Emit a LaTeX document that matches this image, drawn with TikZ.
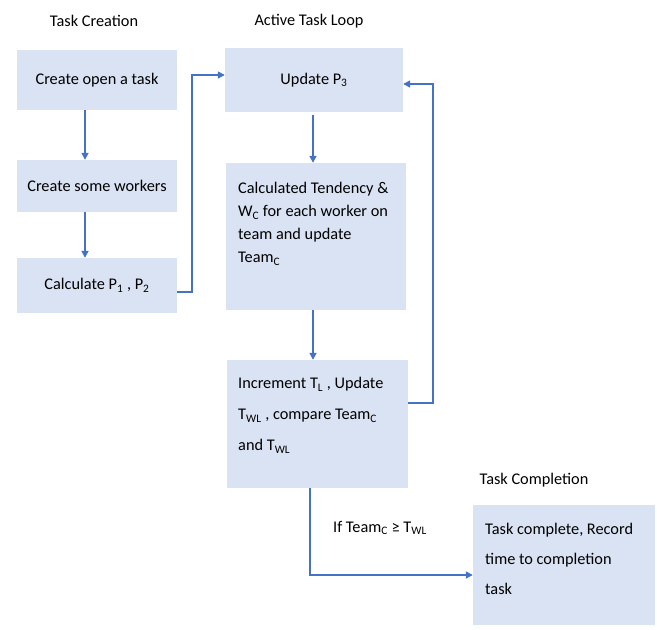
\documentclass[tikz,border=0pt]{standalone}
\usepackage{fontspec}
\setmainfont{Carlito}
\usetikzlibrary{arrows.meta}
\definecolor{boxfill}{HTML}{DAE3F3}
\definecolor{arrcol}{HTML}{4472C4}
\tikzset{
  box/.style={fill=boxfill, draw=none, inner sep=0pt, font=\fontsize{16.3}{18}\selectfont},
  txt/.style={inner sep=0pt, anchor=north west, align=left},
  head/.style={inner sep=0pt, font=\fontsize{16.3}{18}\selectfont},
  arr/.style={draw=arrcol, line width=1.6pt, -{Triangle[length=7pt,width=7pt]}},
}
\begin{document}
\begin{tikzpicture}[x=1pt,y=-1pt]
\useasboundingbox (0,0) rectangle (657,630);
\node[head] (h1) at (94,21) {Task Creation};
\node[head] (h2) at (309,21) {Active Task Loop};
\node[head] (h3) at (534,480) {Task Completion};

\node[box, minimum width=160pt, minimum height=60pt] (b1) at (97,80) {Create open a task};
\node[box, minimum width=160pt, minimum height=52pt] (b2) at (97,186) {Create some workers};
\node[box, minimum width=160pt, minimum height=55pt] (b3) at (97,285.5) {Calculate P\textsubscript{1} , P\textsubscript{2}};

\node[box, minimum width=178pt, minimum height=64pt] (up) at (314,80) {Update P\textsubscript{3}};
\node[box, minimum width=180pt, minimum height=147pt] (calc) at (316,236.5) {};
\node[box, minimum width=181pt, minimum height=128pt] (incr) at (317.5,424) {};
\node[box, minimum width=182pt, minimum height=120pt] (tc) at (564,565) {};

\node[txt, font=\fontsize{16.3}{23}\selectfont] (calct) at (238,182) {Calculated Tendency \&\\W\textsubscript{C} for each worker on\\team and update\\Team\textsubscript{C}};
\node[txt, font=\fontsize{16.3}{31}\selectfont] (incrt) at (238,377) {Increment T\textsubscript{L} , Update\\T\textsubscript{WL} , compare Team\textsubscript{C}\\and T\textsubscript{WL}};
\node[txt, font=\fontsize{16.3}{30}\selectfont] (tct) at (485,523) {Task complete, Record\\time to completion\\task};

\draw[arr] ([xshift=-12pt]b1.south) -- ([xshift=-12pt]b2.north);
\draw[arr] ([xshift=-12pt]b2.south) -- ([xshift=-12pt]b3.north);
\draw[arr] ([yshift=-6.5pt]b3.east) -- ++(15,0) |- ([yshift=5pt]up.west);
\draw[arr] ([yshift=-3pt,xshift=-1pt]up.south) -- ([xshift=-1pt]up.south |- calc.north);
\draw[arr] ([xshift=-3pt]calc.south) -- ([xshift=-3pt]calc.south |- incr.north);
\draw[arr] ([yshift=21pt]incr.east) -- ++(25,0) |- ([yshift=-4pt]up.east);
\draw[arr] ([xshift=-7.5pt]incr.south) |- ([yshift=-10pt]tc.west);
\node[head] (cond) at (380,528) {If Team\textsubscript{C} ≥ T\textsubscript{WL}};
\end{tikzpicture}
\end{document}
